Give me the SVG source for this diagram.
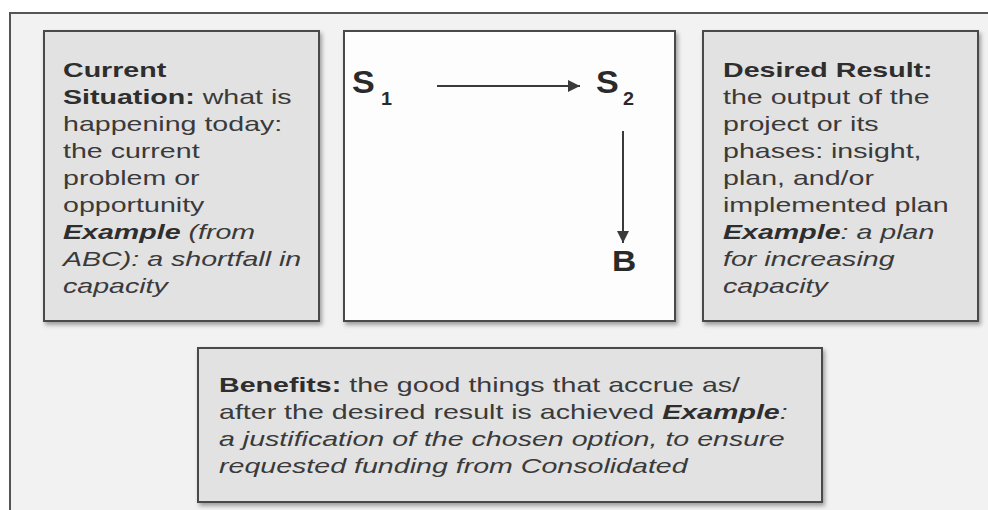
<svg xmlns="http://www.w3.org/2000/svg" width="988" height="510" viewBox="0 0 988 510">
<style>
  .t { font-family: "Liberation Sans", Arial, Helvetica, sans-serif; font-size: 20px; fill: #3a3a3a; }
  .b { font-weight: bold; fill: #2e2e2e; }
  .i { font-style: italic; }
  .big { font-family: "Liberation Sans", Arial, Helvetica, sans-serif; font-weight: bold; fill: #2a2a2a; }
  .box { stroke: #4a4a4a; stroke-width: 2; }
  .gray { fill: #e2e2e2; }
  .white { fill: #fdfdfd; }
  .conn { stroke: #3a3a3a; stroke-width: 2; fill: none; }
</style>
<defs>
  <filter id="sh" x="-10%" y="-10%" width="130%" height="130%">
    <feDropShadow dx="2" dy="3" stdDeviation="2" flood-color="#000" flood-opacity="0.35"/>
  </filter>
  <marker id="ah" viewBox="0 0 10 10" refX="10" refY="5" markerWidth="18" markerHeight="12" markerUnits="userSpaceOnUse" orient="auto">
    <path d="M0,0 L10,5 L0,10 Z" fill="#3a3a3a"/>
  </marker>
</defs>

<rect x="0" y="0" width="988" height="510" fill="#ffffff"/>
<g id="frame">
  <rect x="10" y="13" width="990" height="510" fill="#f2f2f2"/>
  <path d="M10,510 L10,13 L988,13" stroke="#555" stroke-width="2" fill="none"/>
</g>

<g id="current-situation">
  <rect class="box gray" x="44" y="31" width="275" height="290" filter="url(#sh)"/>
  <g class="t" transform="translate(63 0) scale(1.43 1)">
    <text x="0" y="77"><tspan class="b">Current</tspan></text>
    <text x="0" y="104"><tspan class="b">Situation:</tspan> what is</text>
    <text x="0" y="131">happening today:</text>
    <text x="0" y="158">the current</text>
    <text x="0" y="185">problem or</text>
    <text x="0" y="212">opportunity</text>
    <text x="0" y="239" class="i"><tspan class="b">Example</tspan> (from</text>
    <text x="0" y="266" class="i">ABC): a shortfall in</text>
    <text x="0" y="293" class="i">capacity</text>
  </g>
</g>

<g id="model">
  <rect class="box white" x="344" y="31" width="331" height="290" filter="url(#sh)"/>
</g>

<g id="s1">
  <text class="big" transform="translate(352 93) scale(1.1 1)" font-size="31">S</text>
  <text class="big" transform="translate(381 105) scale(1.1 1)" font-size="18">1</text>
</g>
<g id="s2">
  <text class="big" transform="translate(596 93) scale(1.1 1)" font-size="31">S</text>
  <text class="big" transform="translate(623 105) scale(1.1 1)" font-size="18">2</text>
</g>
<g id="b">
  <text class="big" transform="translate(612 271) scale(1.12 1)" font-size="30">B</text>
</g>

<g id="connectors">
  <line class="conn" x1="437" y1="86" x2="580" y2="86" marker-end="url(#ah)"/>
  <line class="conn" x1="623" y1="131" x2="623" y2="243" marker-end="url(#ah)"/>
</g>

<g id="desired-result">
  <rect class="box gray" x="703" y="31" width="275" height="290" filter="url(#sh)"/>
  <g class="t" transform="translate(723 0) scale(1.43 1)">
    <text x="0" y="77"><tspan class="b">Desired Result:</tspan></text>
    <text x="0" y="104">the output of the</text>
    <text x="0" y="131">project or its</text>
    <text x="0" y="158">phases: insight,</text>
    <text x="0" y="185">plan, and/or</text>
    <text x="0" y="212">implemented plan</text>
    <text x="0" y="239" class="i"><tspan class="b">Example</tspan>: a plan</text>
    <text x="0" y="266" class="i">for increasing</text>
    <text x="0" y="293" class="i">capacity</text>
  </g>
</g>

<g id="benefits">
  <rect class="box gray" x="198" y="348" width="624" height="154" filter="url(#sh)"/>
  <g class="t" transform="translate(219 0) scale(1.43 1)">
    <text x="0" y="392"><tspan class="b">Benefits:</tspan> the good things that accrue as/</text>
    <text x="0" y="419">after the desired result is achieved <tspan class="b i">Example</tspan><tspan class="i">:</tspan></text>
    <text x="0" y="446" class="i">a justification of the chosen option, to ensure</text>
    <text x="0" y="473" class="i">requested funding from Consolidated</text>
  </g>
</g>
</svg>
